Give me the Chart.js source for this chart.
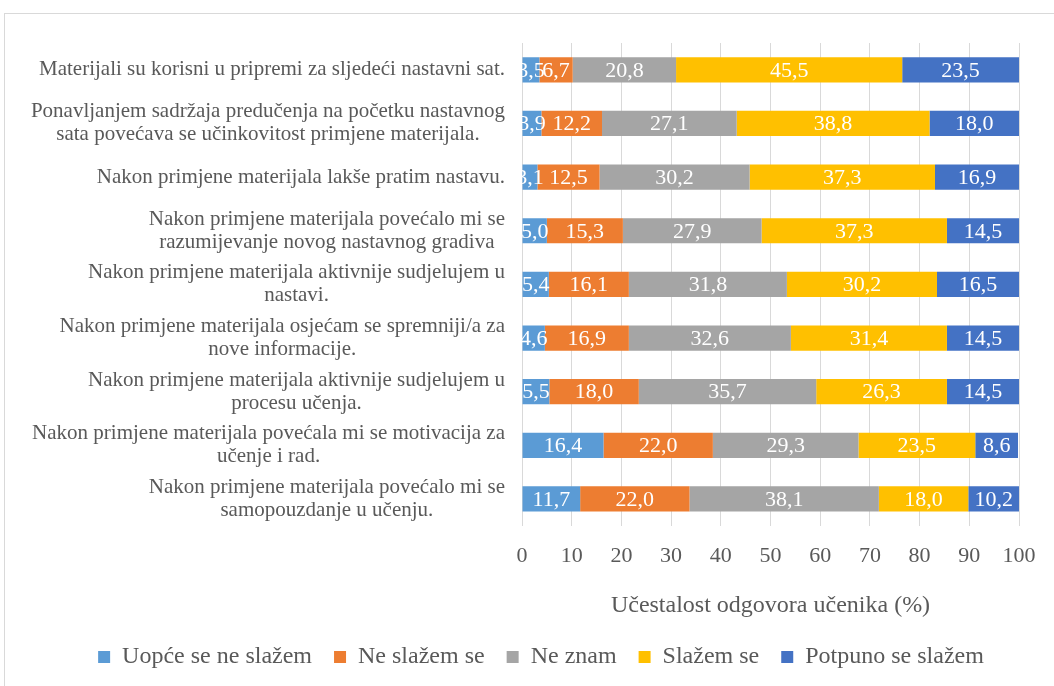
<!DOCTYPE html>
<html>
<head>
<meta charset="utf-8">
<script src="https://cdn.jsdelivr.net/npm/chart.js@4/dist/chart.umd.min.js"></script>
<style>
  html, body { margin:0; padding:0; background:#fff; overflow:hidden; }
  #okvir {
    position:absolute; left:4px; top:13px;
    width:1100px; height:700px;
    border:1px solid #d9d9d9;
  }
  #wrap { position:absolute; left:0; top:0; width:1049px; height:672px; }
</style>
</head>
<body>
<div id="okvir"><div id="wrap"><canvas id="grafikon"></canvas></div></div>
<script>
// ================= PODACI =================
const pitanja = [
  "Materijali su korisni u pripremi za sljedeći nastavni sat.",
  ["Ponavljanjem sadržaja predučenja na početku nastavnog", "sata povećava se učinkovitost primjene materijala."],
  "Nakon primjene materijala lakše pratim nastavu.",
  ["Nakon primjene materijala povećalo mi se", "razumijevanje novog nastavnog gradiva"],
  ["Nakon primjene materijala aktivnije sudjelujem u", "nastavi."],
  ["Nakon primjene materijala osjećam se spremniji/a za", "nove informacije."],
  ["Nakon primjene materijala aktivnije sudjelujem u", "procesu učenja."],
  ["Nakon primjene materijala povećala mi se motivacija za", "učenje i rad."],
  ["Nakon primjene materijala povećalo mi se", "samopouzdanje u učenju."]
];

const uopceSeNeSlazem = [3.5, 3.9, 3.1, 5.0, 5.4, 4.6, 5.5, 16.4, 11.7];
const neSlazemSe      = [6.7, 12.2, 12.5, 15.3, 16.1, 16.9, 18.0, 22.0, 22.0];
const neZnam          = [20.8, 27.1, 30.2, 27.9, 31.8, 32.6, 35.7, 29.3, 38.1];
const slazemSe        = [45.5, 38.8, 37.3, 37.3, 30.2, 31.4, 26.3, 23.5, 18.0];
const potpunoSeSlazem = [23.5, 18.0, 16.9, 14.5, 16.5, 14.5, 14.5, 8.6, 10.2];

const xTicks = [0, 10, 20, 30, 40, 50, 60, 70, 80, 90, 100];

const FONT = "'Liberation Serif', 'Times New Roman', serif";
const SIVA = "#595959";

// ================= PLUGINI =================
// vrijednosti u segmentima (bijeli tekst, decimalni zarez)
const oznakeVrijednosti = {
  id: "oznakeVrijednosti",
  afterDatasetsDraw(chart){
    const ctx = chart.ctx;
    ctx.save();
    ctx.font = "22px " + FONT;
    ctx.fillStyle = "#fff";
    ctx.textAlign = "center";
    ctx.textBaseline = "middle";
    chart.data.datasets.forEach((ds, di) => {
      const meta = chart.getDatasetMeta(di);
      meta.data.forEach((el, i) => {
        const v = ds.data[i];
        const cx = (el.x + el.base) / 2;
        ctx.fillText(v.toFixed(1).replace(".", ","), cx, el.y + 1);
      });
    });
    ctx.restore();
  }
};

// kategorije: blok poravnat desno, redovi centrirani unutar bloka
const oznakeKategorija = {
  id: "oznakeKategorija",
  afterDraw(chart){
    const ctx = chart.ctx;
    const y = chart.scales.y;
    ctx.save();
    ctx.font = "21px " + FONT;
    ctx.fillStyle = SIVA;
    ctx.textAlign = "center";
    ctx.textBaseline = "middle";
    chart.data.labels.forEach((lab, i) => {
      const redovi = Array.isArray(lab) ? lab : [lab];
      const sirina = Math.max(...redovi.map(r => ctx.measureText(r).width));
      const cx = y.right - 17 - sirina / 2;
      const cy = y.getPixelForTick(i);
      redovi.forEach((r, j) => {
        ctx.fillText(r, cx, cy + (j - (redovi.length - 1) / 2) * 23);
      });
    });
    ctx.restore();
  }
};

// ================= GRAFIKON =================
const ctx = document.getElementById("grafikon").getContext("2d");

new Chart(ctx, {
  type: "bar",
  data: {
    labels: pitanja,
    datasets: [
      { label: "Uopće se ne slažem", data: uopceSeNeSlazem, backgroundColor: "#5B9BD5" },
      { label: "Ne slažem se",       data: neSlazemSe,      backgroundColor: "#ED7D31" },
      { label: "Ne znam",            data: neZnam,          backgroundColor: "#A5A5A5" },
      { label: "Slažem se",          data: slazemSe,        backgroundColor: "#FFC000" },
      { label: "Potpuno se slažem",  data: potpunoSeSlazem, backgroundColor: "#4472C4" }
    ]
  },
  options: {
    indexAxis: "y",
    responsive: true,
    maintainAspectRatio: false,
    animation: false,
    datasets: { bar: { barPercentage: 0.47, categoryPercentage: 1, borderWidth: 0 } },
    layout: { padding: { top: 29, right: 35, left: 58, bottom: 7 } },
    scales: {
      x: {
        stacked: true,
        min: 0, max: 100,
        afterBuildTicks: s => { s.ticks = xTicks.map(v => ({ value: v })); },
        grid: { color: "#d9d9d9", lineWidth: 1, drawTicks: false },
        border: { display: false },
        ticks: { color: SIVA, font: { family: FONT, size: 22 }, padding: 17, maxRotation: 0 },
        title: {
          display: true,
          text: "Učestalost odgovora učenika (%)",
          color: SIVA,
          font: { family: FONT, size: 24 },
          padding: { top: 5, bottom: 3 }
        }
      },
      y: {
        stacked: true,
        grid: { display: false },
        border: { display: false },
        ticks: { display: false },
        afterFit: s => { s.width = 459; }
      }
    },
    plugins: {
      legend: {
        position: "bottom",
        labels: {
          color: SIVA,
          font: { family: FONT, size: 24 },
          boxWidth: 12, boxHeight: 12,
          padding: 22
        }
      },
      tooltip: { enabled: false }
    }
  },
  plugins: [oznakeVrijednosti, oznakeKategorija]
});
</script>
</body>
</html>
